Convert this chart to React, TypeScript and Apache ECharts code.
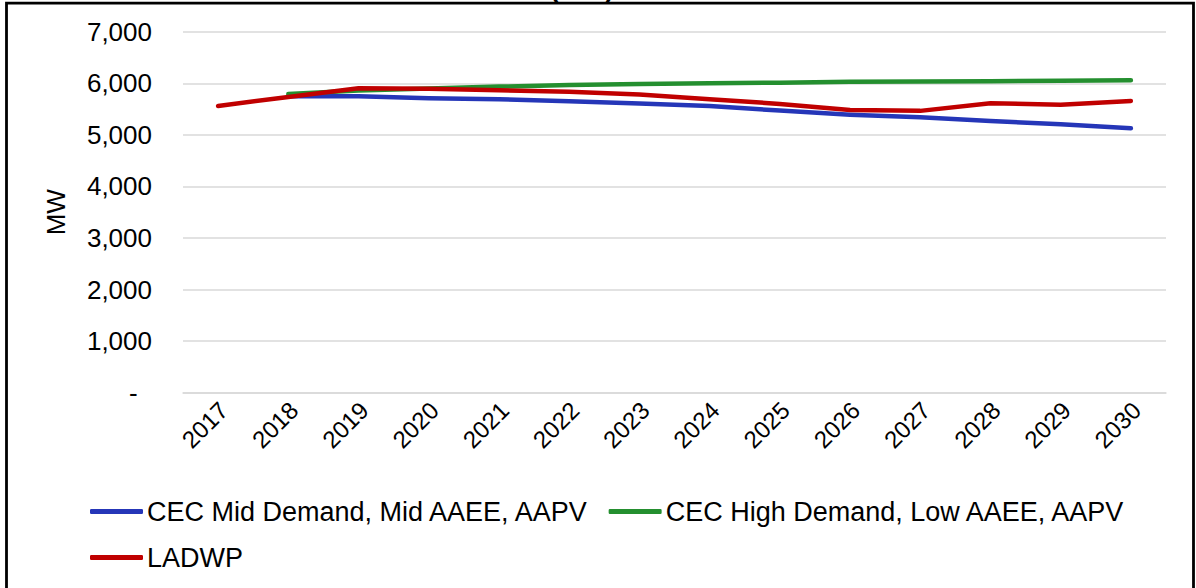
import React, { useEffect, useRef } from "react";
import * as echarts from "echarts";

const years = ["2017", "2018", "2019", "2020", "2021", "2022", "2023", "2024", "2025", "2026", "2027", "2028", "2029", "2030"];
const cecMid = [null, 5750, 5750, 5710, 5690, 5650, 5610, 5560, 5470, 5390, 5340, 5270, 5205, 5127];
const cecHigh = [null, 5790, 5860, 5900, 5935, 5965, 5986, 6000, 6012, 6030, 6033, 6040, 6050, 6058];
const ladwp = [5560, 5735, 5903, 5895, 5865, 5835, 5780, 5690, 5600, 5482, 5465, 5612, 5585, 5656];
const seriesNames = ["CEC Mid Demand, Mid AAEE, AAPV", "CEC High Demand, Low AAEE, AAPV", "LADWP"];
const colors = ["#2536B8", "#248F2F", "#C00000"];

const FONT = "'Liberation Sans', Arial, sans-serif";

export default function App() {
  const ref = useRef<HTMLDivElement>(null);
  useEffect(() => {
    if (!ref.current) return;
    const chart = echarts.init(ref.current, null, { renderer: "svg" });
    const data = [cecMid, cecHigh, ladwp];
    const legendBase = {
      left: 90,
      padding: 0,
      itemWidth: 53,
      itemHeight: 5,
      itemGap: 19,
      icon: "roundRect",
      textStyle: { fontSize: 27, color: "#000", fontFamily: FONT, padding: [0, 0, 0, -1] },
    };
    chart.setOption({
      animation: false,
      backgroundColor: "#ffffff",
      textStyle: { fontFamily: FONT },
      graphic: [
        {
          type: "rect",
          shape: { x: 6.5, y: 3.2, width: 1187, height: 700 },
          style: { fill: "none", stroke: "#000", lineWidth: 2.8 },
          silent: true,
        },
        {
          type: "text",
          x: 582,
          y: -11,
          style: {
            text: "(MW)",
            fontFamily: FONT,
            fontSize: 26,
            fontWeight: "bold",
            fill: "#000",
            align: "center",
            verticalAlign: "middle",
          },
        },
      ],
      grid: { left: 183, right: 30, top: 31.7, bottom: 195.3, containLabel: false },
      legend: [
        { ...legendBase, data: [seriesNames[0], seriesNames[1]], top: 498 },
        { ...legendBase, data: [seriesNames[2]], top: 544 },
      ],
      xAxis: {
        type: "category",
        data: years,
        boundaryGap: true,
        axisLine: { show: true, lineStyle: { color: "#D9D9D9", width: 1.5 } },
        axisTick: { show: false },
        axisLabel: {
          rotate: 45,
          fontSize: 24,
          color: "#000",
          fontFamily: FONT,
          margin: 19,
          interval: 0,
          padding: [0, -8, 0, 0],
        },
      },
      yAxis: {
        type: "value",
        min: 0,
        max: 7000,
        interval: 1000,
        name: "MW",
        nameLocation: "middle",
        nameRotate: 90,
        nameGap: 114,
        nameTextStyle: { fontSize: 26, color: "#000", fontFamily: FONT },
        axisLine: { show: false },
        axisTick: { show: false },
        splitLine: { lineStyle: { color: "#D9D9D9", width: 1.5 } },
        axisLabel: {
          fontSize: 26,
          color: "#000",
          fontFamily: FONT,
          margin: 31,
          formatter: (v: number) => (v === 0 ? "-\u2007" : v.toLocaleString("en-US")),
        },
      },
      series: seriesNames.map((name, i) => ({
        name,
        type: "line",
        data: data[i],
        symbol: "none",
        showSymbol: false,
        connectNulls: false,
        lineStyle: { color: colors[i], width: 4.5, cap: "round", join: "round" },
        itemStyle: { color: colors[i] },
        z: i === 2 ? 3 : 2,
      })),
    });
    return () => chart.dispose();
  }, []);
  return (
    <div
      ref={ref}
      style={{ position: "absolute", left: 0, top: 0, width: 1196, height: 588 }}
    />
  );
}
